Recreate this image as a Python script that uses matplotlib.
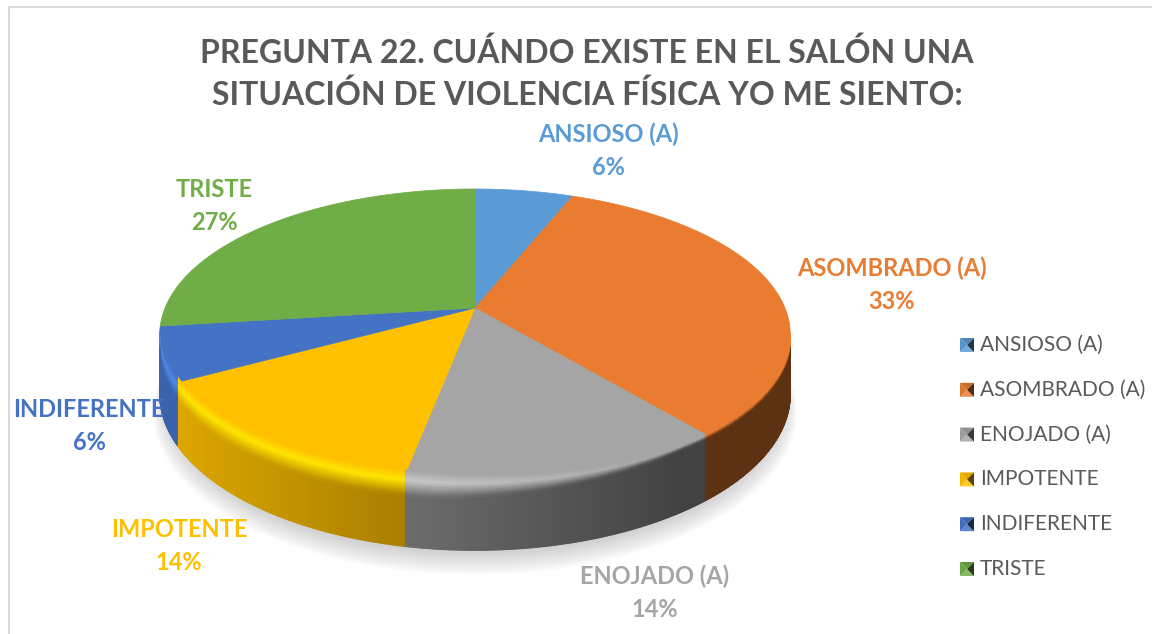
import numpy as np
import matplotlib
matplotlib.use("Agg")
import matplotlib.pyplot as plt
from matplotlib.collections import PolyCollection
from matplotlib.colors import to_rgb

categorias = ["ANSIOSO (A)", "ASOMBRADO (A)", "ENOJADO (A)", "IMPOTENTE", "INDIFERENTE", "TRISTE"]
valores = [6, 33, 14, 14, 6, 27]
colores = ["#5B9BD5", "#E97C30", "#A5A5A5", "#FFC000", "#4472C4", "#70AD47"]
brillos = ["#5B9BD5", "#E97C30", "#C8C8C8", "#FFE600", "#4F8AE8", "#70AD47"]
titulo = "PREGUNTA 22. CUÁNDO EXISTE EN EL SALÓN UNA\nSITUACIÓN DE VIOLENCIA FÍSICA YO ME SIENTO:"

plt.rcParams["font.family"] = ["Lato", "DejaVu Sans"]

# geometria de la torta en perspectiva (pixeles)
CX, CY = 475, 308
A, B, K = 310, 140.7, 0.182
ALTO = 57.5


def proyectar(theta, r=1.0, z=0.0):
    x = r * np.sin(theta)
    y = r * np.cos(theta)
    w = 1 + K * y
    return CX + A * x / w, CY - B * y / w + z / w


def mezclar(c, otro, t):
    c = np.array(to_rgb(c))
    otro = np.array(to_rgb(otro))
    return tuple(c * (1 - t) + otro * t)


fig = plt.figure(figsize=(11.52, 6.34), dpi=100)
ax = fig.add_axes([0, 0, 1, 1])
ax.set_xlim(0, 1152)
ax.set_ylim(634, 0)
ax.axis("off")

# borde del grafico
ax.plot([9, 9, 1152], [634, 6.5, 6.5], color="#D9D9D9", lw=1.5)

fracciones = np.array(valores) / sum(valores)
cortes = np.concatenate([[0], np.cumsum(fracciones)]) * 2 * np.pi
limite = np.arccos(-K)  # silueta: desde aca la pared no se ve

# sombra difusa
t = np.linspace(0, 2 * np.pi, 240)
for i in range(14):
    sx, sy = proyectar(t, 1.0 - 0.004 * i + 0.02, ALTO + 16 - i)
    ax.fill(sx, sy, color="#808080", alpha=0.035, lw=0, zorder=1)

# cara superior
polys, cols = [], []
for ini, fin, c in zip(cortes[:-1], cortes[1:], colores):
    tt = np.linspace(ini, fin, max(int((fin - ini) * 60), 2))
    px, py = proyectar(tt)
    polys.append([(CX, CY)] + list(zip(px, py)))
    cols.append(c)
ax.add_collection(PolyCollection(polys, facecolors=cols, edgecolors=cols, linewidths=0.5, zorder=3))

# pared lateral con el borde redondeado arriba
polys, cols = [], []
niveles = np.linspace(0, 1, 13)
for ini, fin, c, br in zip(cortes[:-1], cortes[1:], colores, brillos):
    ini2 = max(ini, limite)
    fin2 = min(fin, 2 * np.pi - limite)
    if fin2 <= ini2:
        continue
    # un trozo por pixel mas o menos, para que no queden rayas
    tt = np.linspace(ini2, fin2, max(int((fin2 - ini2) * 160), 2))
    for a, b in zip(tt[:-1], tt[1:]):
        m = (a + b) / 2
        xm, _ = proyectar(m)
        oscuro = 0.13 + 0.47 * np.clip((xm - 175) / 505, 0, 1)
        pared = mezclar(c, "#000000", oscuro)
        izq = np.clip((680 - xm) / 250, 0, 1)
        frente = np.clip(-np.cos(m) * 2, 0, 1)
        luz = mezclar(c, br, izq)
        z_ini = -5 * frente * izq
        z_fin = 5 + 11 * izq
        xa1, ya1 = proyectar(a, z=z_fin)
        xb1, yb1 = proyectar(b, z=z_fin)
        xa2, ya2 = proyectar(a, z=ALTO)
        xb2, yb2 = proyectar(b, z=ALTO)
        polys.append([(xa1, ya1), (xb1, yb1), (xb2, yb2), (xa2, ya2)])
        cols.append(pared)
        # banda del bisel
        for s1, s2 in zip(niveles[:-1], niveles[1:]):
            s = (s1 + s2) / 2
            if s < 0.4:
                color = mezclar(c, luz, s / 0.4)
            else:
                color = mezclar(luz, pared, (s - 0.4) / 0.6)
            z1 = z_ini + (z_fin - z_ini) * s1
            z2 = z_ini + (z_fin - z_ini) * s2
            xa1, ya1 = proyectar(a, z=z1)
            xb1, yb1 = proyectar(b, z=z1)
            xa2, ya2 = proyectar(a, z=z2)
            xb2, yb2 = proyectar(b, z=z2)
            polys.append([(xa1, ya1), (xb1, yb1), (xb2, yb2), (xa2, ya2)])
            cols.append(color)
ax.add_collection(PolyCollection(polys, facecolors=cols, edgecolors=cols, linewidths=0.8, zorder=4))

# titulo
ax.text(587, 74, titulo, ha="center", va="center", fontsize=23, fontweight="bold",
        color="#595959", linespacing=1.47, zorder=6)

# etiquetas de datos
pos_etiquetas = [(608, 151), (892, 285), (655, 593), (179, 546), (89, 426), (214, 206)]
for nom, v, c, (ex, ey) in zip(categorias, valores, colores, pos_etiquetas):
    ax.text(ex, ey, f"{nom}\n{v}%", ha="center", va="center", fontsize=17, fontweight="bold",
            color=c, linespacing=1.5, zorder=6)

# leyenda
ley_y = np.linspace(345, 569, len(categorias))
for nom, c, y in zip(categorias, colores, ley_y):
    x0, x1, y0, y1 = 960, 974, y - 7, y + 7
    xm, ym = (x0 + x1) / 2, y
    ax.fill([x0, x1, xm], [y0, y0, ym], color=mezclar(c, "#000000", 0.12), lw=0, zorder=6)
    ax.fill([x0, x1, xm], [y1, y1, ym], color=mezclar(c, "#FFFFFF", 0.15), lw=0, zorder=6)
    ax.fill([x0, x0, xm], [y0, y1, ym], color=mezclar(c, "#000000", 0.05), lw=0, zorder=6)
    ax.fill([x1, x1, xm], [y0, y1, ym], color=mezclar(c, "#000000", 0.65), lw=0, zorder=6)
    ax.text(980, y, nom, ha="left", va="center", fontsize=15, color="#595959", zorder=6)

fig.savefig("out.png", dpi=100)
